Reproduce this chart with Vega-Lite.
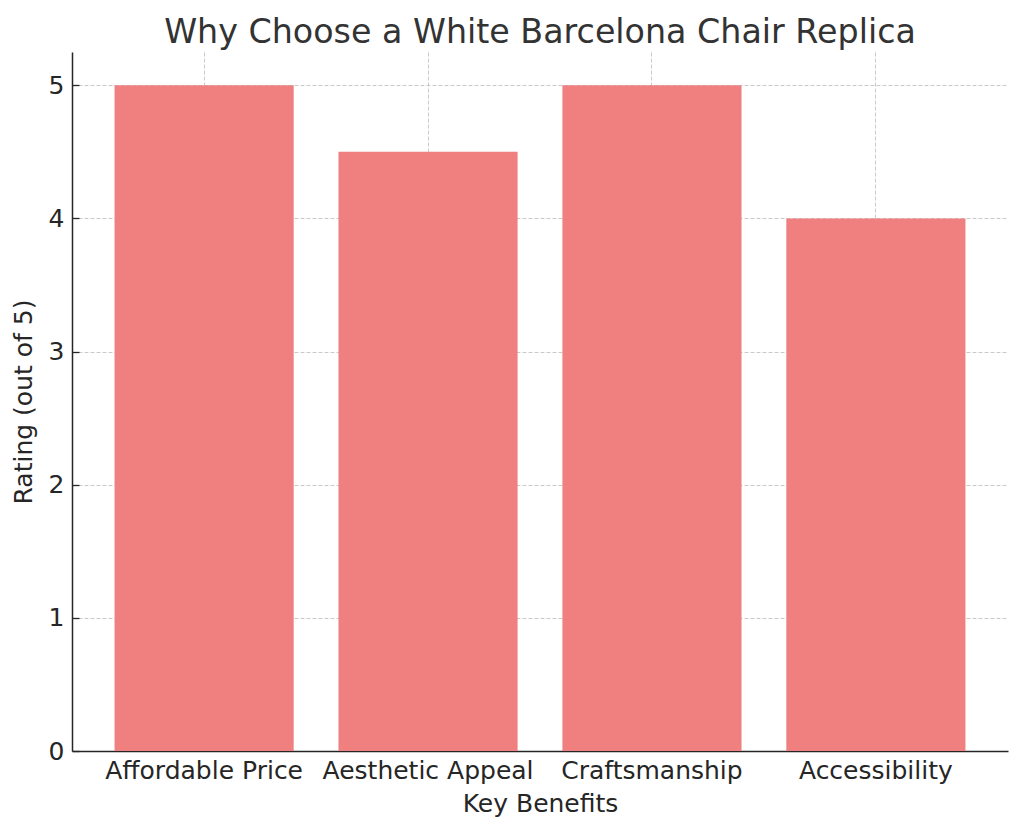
{
  "$schema": "https://vega.github.io/schema/vega-lite/v6.json",
  "width": 936,
  "height": 699,
  "autosize": {"type": "none"},
  "padding": {"left": 72, "top": 52, "right": 16, "bottom": 81},
  "background": "white",
  "title": {
    "text": "Why Choose a White Barcelona Chair Replica",
    "font": "DejaVu Sans",
    "fontSize": 33.3,
    "fontWeight": "normal",
    "color": "#333333",
    "offset": 2
  },
  "config": {
    "view": {"stroke": null},
    "axis": {
      "labelFont": "DejaVu Sans",
      "titleFont": "DejaVu Sans",
      "labelFontSize": 25,
      "titleFontSize": 25,
      "labelLimit": 0,
      "labelColor": "#262626",
      "titleColor": "#262626",
      "titleFontWeight": "normal",
      "domainColor": "#262626",
      "domainWidth": 1.5,
      "tickColor": "#262626",
      "tickSize": -7,
      "tickWidth": 1.3,
      "gridColor": "#c4c4c4",
      "gridDash": [4, 2],
      "gridWidth": 0.9,
      "zindex": 1
    }
  },
  "data": {
    "values": [
      {"benefit": "Affordable Price", "rating": 5},
      {"benefit": "Aesthetic Appeal", "rating": 4.5},
      {"benefit": "Craftsmanship", "rating": 5},
      {"benefit": "Accessibility", "rating": 4}
    ]
  },
  "mark": {"type": "bar", "color": "#F08080"},
  "encoding": {
    "x": {
      "field": "benefit",
      "type": "nominal",
      "sort": null,
      "title": "Key Benefits",
      "scale": {"paddingInner": 0.2, "paddingOuter": 0.19},
      "axis": {"labelAngle": 0, "bandPosition": 0.5, "grid": true, "labelPadding": 14, "titlePadding": 8}
    },
    "y": {
      "field": "rating",
      "type": "quantitative",
      "title": "Rating (out of 5)",
      "scale": {"domain": [0, 5.25], "nice": false},
      "axis": {"values": [0, 1, 2, 3, 4, 5], "grid": true, "labelPadding": 15, "titlePadding": 12}
    }
  }
}
